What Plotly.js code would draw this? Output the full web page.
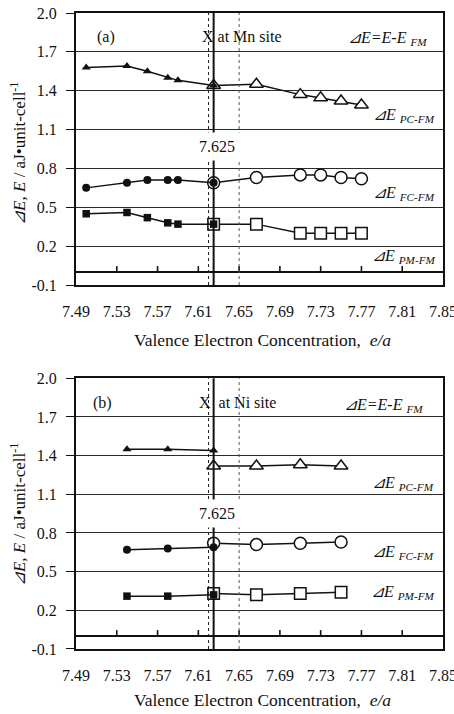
<!DOCTYPE html>
<html>
<head>
<meta charset="utf-8">
<script src="https://cdn.plot.ly/plotly-3.0.1.min.js"></script>
<style>
  html, body { margin: 0; padding: 0; background: #fff; }
  #chart { width: 454px; height: 714px; }
</style>
</head>
<body>
<div id="chart"></div>
<script>
// Axis ticks
const xTicks = [7.49, 7.53, 7.57, 7.61, 7.65, 7.69, 7.73, 7.77, 7.81, 7.85];
const yTicks = [-0.1, 0.2, 0.5, 0.8, 1.1, 1.4, 1.7, 2.0];

// Reference compositions (vertical guides)
const vecRef = 7.625;
const vecDashed = [7.62, 7.65];

// Panel (a): X at Mn site
const aFilledX  = [7.50, 7.54, 7.56, 7.58, 7.59, 7.625];
const aOpenX    = [7.625, 7.667, 7.71, 7.73, 7.75, 7.77];
const aPcFilled = [1.58, 1.59, 1.55, 1.50, 1.48, 1.44];
const aPcOpen   = [1.44, 1.45, 1.37, 1.345, 1.32, 1.29];
const aFcFilled = [0.65, 0.69, 0.71, 0.71, 0.71, 0.69];
const aFcOpen   = [0.69, 0.73, 0.75, 0.75, 0.73, 0.72];
const aPmFilled = [0.45, 0.46, 0.42, 0.38, 0.37, 0.37];
const aPmOpen   = [0.37, 0.37, 0.30, 0.30, 0.30, 0.30];

// Panel (b): X at Ni site
const bFilledX  = [7.54, 7.58, 7.625];
const bOpenX    = [7.625, 7.667, 7.71, 7.75];
const bPcFilled = [1.45, 1.45, 1.44];
const bPcOpen   = [1.32, 1.32, 1.33, 1.32];
const bFcFilled = [0.67, 0.68, 0.69];
const bFcOpen   = [0.72, 0.71, 0.72, 0.73];
const bPmFilled = [0.31, 0.31, 0.32];
const bPmOpen   = [0.33, 0.32, 0.33, 0.34];

const INK = '#111';
const SERIF = 'Liberation Serif, Times New Roman, DejaVu Serif, serif';

const W = 454, H = 714;
const M = { l: 76, r: 11, t: 13, b: 65 };
const yRange = [yTicks[0], yTicks[yTicks.length - 1]];
const xRange = [xTicks[0], xTicks[xTicks.length - 1]];
const domA = [0.5723, 1];
const domB = [0, 0.4256];

const sizes = {
  'triangle-up': { filled: 8, open: 12 },
  'circle':      { filled: 8, open: 12 },
  'square':      { filled: 7.5, open: 11.5 }
};

function series(x, y, sym, open, xa, ya) {
  const s = sizes[sym];
  return {
    type: 'scatter', mode: 'lines+markers', x: x, y: y, xaxis: xa, yaxis: ya,
    line: { color: INK, width: 1.5 },
    marker: open
      ? { symbol: sym, size: s.open, color: '#fff', line: { color: INK, width: 1.5 } }
      : { symbol: sym, size: s.filled, color: INK, line: { width: 0 } },
    showlegend: false, hoverinfo: 'skip', cliponaxis: false
  };
}

// short upward tick marks standing on the E = 0 line (6 px tall)
function zeroTicks(xa, ya, dom) {
  const plotPx = (H - M.t - M.b) * (dom[1] - dom[0]);
  const len = 6 * (yRange[1] - yRange[0]) / plotPx;
  const xs = [], ys = [];
  xTicks.slice(1, -1).forEach(v => { xs.push(v, v, null); ys.push(0, len, null); });
  return {
    type: 'scatter', mode: 'lines', x: xs, y: ys, xaxis: xa, yaxis: ya,
    line: { color: INK, width: 1.6 }, connectgaps: false,
    showlegend: false, hoverinfo: 'skip'
  };
}

const traces = [
  zeroTicks('x', 'y', domA),
  zeroTicks('x2', 'y2', domB),
  // panel (a) — open (X-rich side) first so filled markers sit on top at 7.625
  series(aOpenX, aPcOpen, 'triangle-up', true, 'x', 'y'),
  series(aOpenX, aFcOpen, 'circle', true, 'x', 'y'),
  series(aOpenX, aPmOpen, 'square', true, 'x', 'y'),
  series(aFilledX, aPcFilled, 'triangle-up', false, 'x', 'y'),
  series(aFilledX, aFcFilled, 'circle', false, 'x', 'y'),
  series(aFilledX, aPmFilled, 'square', false, 'x', 'y'),
  // panel (b)
  series(bOpenX, bPcOpen, 'triangle-up', true, 'x2', 'y2'),
  series(bOpenX, bFcOpen, 'circle', true, 'x2', 'y2'),
  series(bOpenX, bPmOpen, 'square', true, 'x2', 'y2'),
  series(bFilledX, bPcFilled, 'triangle-up', false, 'x2', 'y2'),
  series(bFilledX, bFcFilled, 'circle', false, 'x2', 'y2'),
  series(bFilledX, bPmFilled, 'square', false, 'x2', 'y2')
];

const tickFont = { family: SERIF, size: 16, color: INK };

function xMain(anchor) {
  return {
    anchor: anchor, range: xRange, tickvals: xTicks,
    ticktext: xTicks.map(v => v.toFixed(2)),
    ticks: '', showgrid: false, zeroline: false,
    showline: true, mirror: true, linewidth: 2, linecolor: INK,
    ticklabelstandoff: 11, ticklabeloverflow: 'allow',
    tickfont: tickFont, fixedrange: true
  };
}
function yAxis(anchor, dom) {
  return {
    anchor: anchor, domain: dom, range: yRange, tickvals: yTicks,
    ticktext: yTicks.map(v => v.toFixed(1)),
    ticks: 'outside', ticklen: 8, tickwidth: 1, tickcolor: INK,
    showgrid: true, gridcolor: '#2a2a2a', gridwidth: 1,
    zeroline: true, zerolinecolor: INK, zerolinewidth: 1.5,
    showline: true, mirror: true, linewidth: 2, linecolor: INK,
    ticklabelstandoff: 6, tickfont: tickFont, fixedrange: true
  };
}

function guides(xa, ya) {
  const out = vecDashed.map((v, i) => ({
    type: 'line', xref: xa, yref: ya + ' domain', x0: v, x1: v, y0: 0, y1: 1,
    line: { color: i === 0 ? '#222' : '#555', width: 1, dash: '3px,3px' }
  }));
  out.push({
    type: 'line', xref: xa, yref: ya + ' domain', x0: vecRef, x1: vecRef, y0: 0, y1: 1,
    line: { color: INK, width: 2 }
  });
  return out;
}

function txt(text, xa, ya, x, y, xanchor, extra) {
  return Object.assign({
    text: text, xref: xa + ' domain', yref: ya + ' domain', x: x, y: y,
    xanchor: xanchor, yanchor: 'middle', showarrow: false,
    font: { family: SERIF, size: 16, color: INK }
  }, extra || {});
}

const dE = '<i>⊿E</i>';
function panelNotes(xa, ya, p) {
  const big = { family: SERIF, size: 17.5, color: INK };
  return [
    txt(p.tag, xa, ya, p.tagX, p.topY, 'center'),
    txt(p.site, xa, ya, p.siteX, p.topY, 'left'),
    txt('<i>⊿E=E-E</i> <sub><i>FM</i></sub>', xa, ya, p.defX, p.defY, 'right'),
    txt('7.625', xa, ya, p.refX, p.refY, 'center', { bgcolor: '#fff', borderpad: 5 }),
    txt(dE + ' <sub><i>PC-FM</i></sub>', xa, ya, p.lblX, p.pcY, 'right'),
    txt(dE + ' <sub><i>FC-FM</i></sub>', xa, ya, p.lblX, p.fcY, 'right'),
    txt(dE + ' <sub><i>PM-FM</i></sub>', xa, ya, p.lblX, p.pmY, 'right'),
    txt('Valence Electron Concentration,  <i>e/a</i>', xa, ya, 0.507, p.xtY, 'center',
        { font: big }),
    txt('<i>⊿E, E</i> / aJ•unit-cell<sup>-1</sup>', xa, ya, 0, p.ytY, 'center',
        { textangle: -90, xshift: -58, font: { family: SERIF, size: 17, color: INK } })
  ];
}

const notesA = panelNotes('x', 'y', {
  tag: '(a)', tagX: 0.082, topY: 0.912, site: 'X at Mn site', siteX: 0.337,
  defX: 0.962, defY: 0.905, refX: 0.384, refY: 0.511, lblX: 0.985,
  pcY: 0.625, fcY: 0.338, pmY: 0.103, xtY: -0.202, ytY: 0.482
});
const notesB = panelNotes('x2', 'y2', {
  tag: '(b)', tagX: 0.073, topY: 0.909, site: 'X\u00a0\u00a0at Ni site', siteX: 0.329,
  defX: 0.95, defY: 0.9, refX: 0.385, refY: 0.502, lblX: 0.98,
  pcY: 0.613, fcY: 0.358, pmY: 0.21, xtY: -0.188, ytY: 0.495
});

const layout = {
  width: W, height: H,
  margin: M,
  paper_bgcolor: '#fff', plot_bgcolor: '#fff',
  showlegend: false,
  xaxis: xMain('y'),
  xaxis2: xMain('y2'),
  yaxis: yAxis('x', domA),
  yaxis2: yAxis('x2', domB),
  shapes: guides('x', 'y').concat(guides('x2', 'y2')),
  annotations: notesA.concat(notesB)
};

Plotly.newPlot('chart', traces, layout, { staticPlot: true, displayModeBar: false });
</script>
</body>
</html>
